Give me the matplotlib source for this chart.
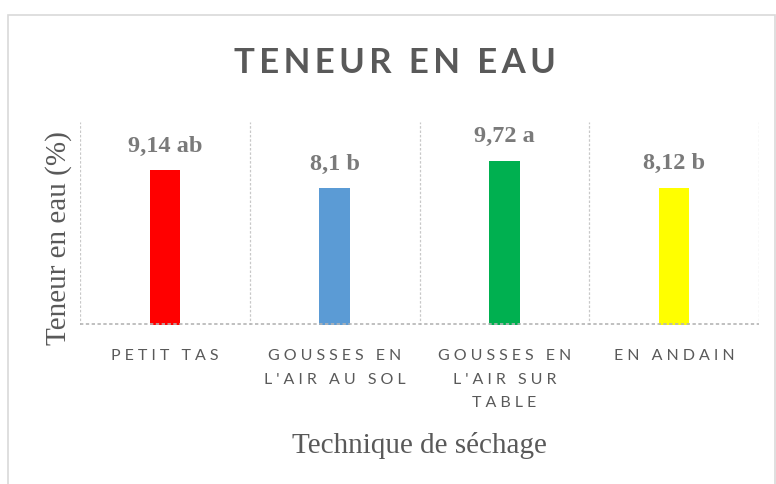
import matplotlib.pyplot as plt
from matplotlib.patches import Rectangle

# ---------------------- données ----------------------
techniques = ["PETIT TAS", "GOUSSES EN\nL'AIR AU SOL",
              "GOUSSES EN\nL'AIR SUR\nTABLE", "EN ANDAIN"]
teneur = [9.14, 8.1, 9.72, 8.12]
groupes = ["ab", "b", "a", "b"]
couleurs = ['#FF0000', '#5B9BD5', '#00B050', '#FFFF00']

gris = '#595959'
sans = ['Lato', 'DejaVu Sans']
serif = ['Liberation Serif', 'DejaVu Serif']


def espace(txt, sep='\u2009'):
    # espacement des lettres façon Excel
    return '\n'.join(sep.join(ligne) for ligne in txt.split('\n'))


# ---------------------- figure ----------------------
fig = plt.figure(figsize=(7.76, 4.84), dpi=100)
fig.patches.append(Rectangle((8 / 776, -0.05), 767 / 776, 1 - 15 / 484 + 0.05,
                             transform=fig.transFigure, fill=False,
                             edgecolor='#D9D9D9', linewidth=1.2))

ax = fig.add_axes([80 / 776, 1 - 325 / 484, 679 / 776, 203 / 484])
x = range(len(techniques))
ax.bar(x, teneur, width=0.18, color=couleurs, zorder=3)

for i, (v, g) in enumerate(zip(teneur, groupes)):
    ax.annotate(f"{str(v).replace('.', ',')} {g}", (i, v),
                xytext=(0, 9.5), textcoords='offset points',
                ha='center', va='bottom', fontsize=17.5, fontweight='bold',
                family=serif, color='#7A7A7A')

ax.set_xlim(-0.5, 3.5)
ax.set_ylim(0, 12)
for b in [-0.5, 0.5, 1.5, 2.5, 3.5]:
    ax.axvline(b, color='#C8C8C8', linewidth=0.9, linestyle=(0, (2, 1.5)), zorder=1)
ax.axhline(0.03, color='#B5B5B5', linewidth=1.2, linestyle=(0, (2, 1.5)), zorder=4)
for s in ax.spines.values():
    s.set_visible(False)

ax.set_yticks([])
ax.set_xticks(list(x))
ax.set_xticklabels([espace(t, '\u2009\u2009') for t in techniques],
                   family=sans, fontsize=11.5, color=gris, linespacing=1.9)
ax.tick_params(axis='x', length=0, pad=17)

ax.set_xlabel('Technique de séchage', family=serif, fontsize=21, color=gris)
ax.xaxis.set_label_coords(0.5, -0.525)
ax.set_ylabel('Teneur en eau (%)', family=serif, fontsize=21, color=gris)
ax.yaxis.set_label_coords(-0.012, 0.43)

fig.text(395 / 776, 1 - 63 / 484, espace('TENEUR EN EAU'), ha='center', va='center',
         family=sans, fontsize=25, fontweight='bold', color=gris)

plt.savefig('out.png', dpi=100)
